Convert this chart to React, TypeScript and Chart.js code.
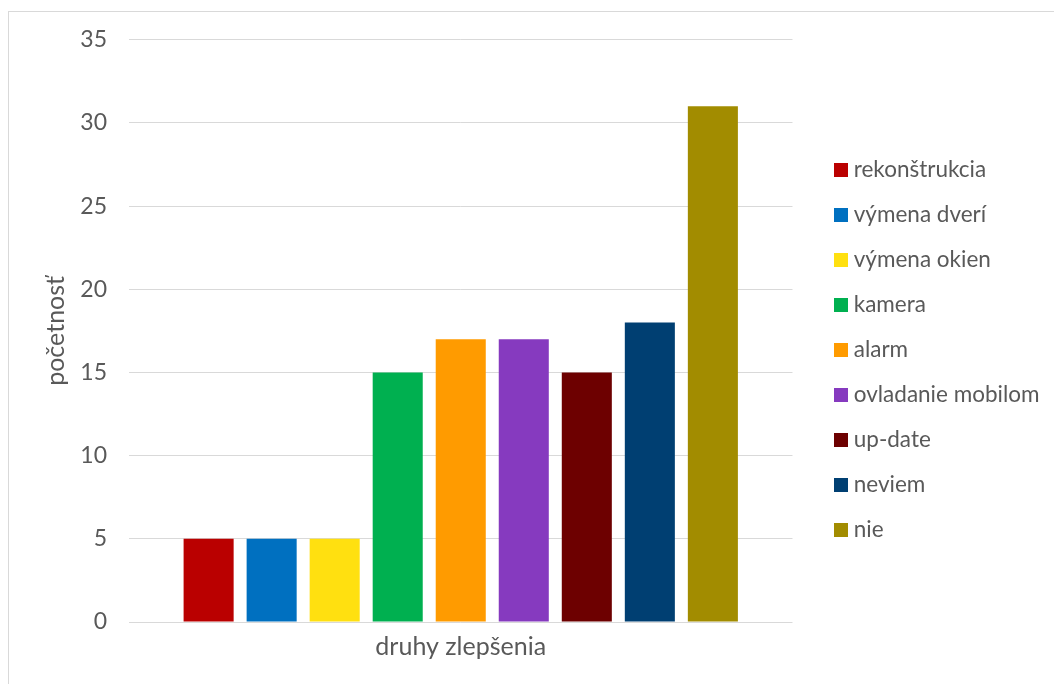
import React, { useEffect, useRef } from "react";
import { Chart, registerables } from "chart.js";

Chart.register(...registerables);

const categories = ["druhy zlepšenia"];
const seriesNames = [
  "rekonštrukcia",
  "výmena dverí",
  "výmena okien",
  "kamera",
  "alarm",
  "ovladanie mobilom",
  "up-date",
  "neviem",
  "nie",
];
const seriesValues = [5, 5, 5, 15, 17, 17, 15, 18, 31];
const seriesColors = [
  "#BA0000",
  "#0070C0",
  "#FFE010",
  "#00B050",
  "#FF9B00",
  "#863ABF",
  "#6D0000",
  "#003F72",
  "#A28C00",
];
const yTicks = [0, 5, 10, 15, 20, 25, 30, 35];
const yTitle = "početnosť";

const FONT = "Lato, 'Open Sans', sans-serif";
const TEXT = "#595959";

function makeSwatch(color: string): HTMLCanvasElement {
  const c = document.createElement("canvas");
  c.width = 14;
  c.height = 14;
  const ctx = c.getContext("2d");
  if (ctx) {
    ctx.fillStyle = color;
    ctx.fillRect(0, 0, 14, 14);
  }
  return c;
}

export default function App() {
  const ref = useRef<HTMLCanvasElement | null>(null);

  useEffect(() => {
    if (!ref.current) return;
    const swatches = seriesColors.map(makeSwatch);
    const defaultLabels = (Chart as any).defaults.plugins.legend.labels.generateLabels;
    const chart = new Chart(ref.current, {
      type: "bar",
      data: {
        labels: categories,
        datasets: seriesNames.map((name, i) => ({
          label: name,
          data: [seriesValues[i]],
          backgroundColor: seriesColors[i],
          borderWidth: 0,
          categoryPercentage: 0.855,
          barPercentage: 0.794,
        })),
      },
      options: {
        responsive: false,
        animation: false,
        maintainAspectRatio: false,
        layout: { padding: { top: 8, bottom: 4, left: 0, right: 4.5 } },
        plugins: {
          tooltip: { enabled: false },
          legend: {
            position: "right",
            align: "center",
            maxWidth: 400,
            labels: {
              usePointStyle: true,
              pointStyleWidth: 2,
              boxHeight: 14,
              padding: 22.5,
              color: TEXT,
              font: { family: FONT, size: 22.5 },
              generateLabels: (ch: any) =>
                defaultLabels(ch).map((item: any, i: number) => ({
                  ...item,
                  pointStyle: swatches[i],
                  lineWidth: 0,
                })),
            },
          },
        },
        scales: {
          x: {
            grid: { display: false, drawTicks: false },
            border: { display: false },
            ticks: {
              color: TEXT,
              padding: 10,
              font: { family: FONT, size: 25 },
            },
            afterFit: (s: any) => {
              s.height = 58;
            },
          },
          y: {
            min: 0,
            max: 35,
            afterBuildTicks: (s: any) => {
              s.ticks = yTicks.map((v) => ({ value: v }));
            },
            grid: {
              color: "#D9D9D9",
              lineWidth: 1,
              drawTicks: true,
              tickLength: 8,
              tickColor: "rgba(0,0,0,0)",
            },
            border: { display: false },
            ticks: {
              color: TEXT,
              padding: 14,
              font: { family: FONT, size: 23 },
            },
            title: {
              display: true,
              text: yTitle,
              color: TEXT,
              padding: { top: 32, bottom: 0 },
              font: { family: FONT, size: 25 },
            },
            afterFit: (s: any) => {
              s.width = 120;
            },
          },
          yr: {
            position: "right",
            display: true,
            grid: { display: false, drawTicks: false },
            border: { display: false },
            ticks: { display: false },
            afterFit: (s: any) => {
              s.width = 25.5;
            },
          },
        },
      },
    } as any);
    return () => chart.destroy();
  }, []);

  return (
    <div
      style={{
        position: "fixed",
        left: 8,
        top: 11,
        width: 1100,
        height: 720,
        border: "1px solid #D9D9D9",
        background: "#fff",
        overflow: "hidden",
      }}
    >
      <canvas
        ref={ref}
        width={1045}
        height={672}
        style={{ position: "absolute", left: 0, top: 0, width: 1045, height: 672 }}
      />
    </div>
  );
}
